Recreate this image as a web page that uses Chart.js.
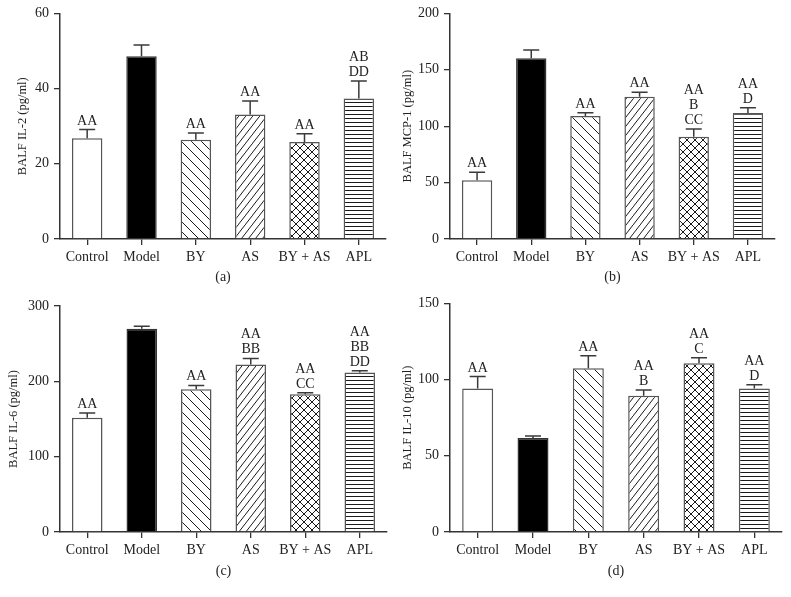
<!DOCTYPE html>
<html>
<head>
<meta charset="utf-8">
<script src="https://cdn.jsdelivr.net/npm/chart.js@4.4.0/dist/chart.umd.min.js"></script>
<style>
  body { margin: 0; background: #fff; }
  #wrap { position: relative; width: 791px; height: 597px; }
  .panel { position: absolute; }
</style>
</head>
<body>
<div id="wrap">
  <div class="panel" style="left:0;top:0;width:395px;height:290px"><canvas id="cA"></canvas></div>
  <div class="panel" style="left:395px;top:0;width:396px;height:290px"><canvas id="cB"></canvas></div>
  <div class="panel" style="left:0;top:290px;width:395px;height:307px"><canvas id="cC"></canvas></div>
  <div class="panel" style="left:395px;top:290px;width:396px;height:307px"><canvas id="cD"></canvas></div>
</div>
<script>
var categories = ['Control', 'Model', 'BY', 'AS', 'BY + AS', 'APL'];

var il2Mean = [26.8, 48.6, 26.4, 33.1, 25.8, 37.4];
var il2Sem = [2.3, 3.0, 1.8, 3.6, 2.2, 4.6];
var il2Marks = [['AA'], [], ['AA'], ['AA'], ['AA'], ['AB', 'DD']];

var mcp1Mean = [52.1, 160.3, 109.0, 126.0, 90.7, 111.6];
var mcp1Sem = [7.1, 7.3, 3.0, 4.0, 6.8, 4.7];
var mcp1Marks = [['AA'], [], ['AA'], ['AA'], ['AA', 'B', 'CC'], ['AA', 'D']];

var il6Mean = [151.5, 269.8, 189.6, 222.4, 183.0, 211.8];
var il6Sem = [6.5, 3.2, 4.9, 8.0, 2.0, 2.2];
var il6Marks = [['AA'], [], ['AA'], ['AA', 'BB'], ['AA', 'CC'], ['AA', 'BB', 'DD']];

var il10Mean = [94.1, 61.7, 107.5, 89.4, 110.7, 94.1];
var il10Sem = [7.9, 1.3, 8.2, 3.8, 3.7, 2.6];
var il10Marks = [['AA'], [], ['AA'], ['AA', 'B'], ['AA', 'C'], ['AA', 'D']];

var serif = "'Liberation Serif', 'DejaVu Serif', serif";
var ink = '#222';

// hatch fills
function makePattern(w, h, draw) {
  var c = document.createElement('canvas');
  c.width = w; c.height = h;
  var g = c.getContext('2d');
  g.fillStyle = '#fff';
  g.fillRect(0, 0, w, h);
  g.strokeStyle = '#1a1a1a';
  g.lineWidth = 1;
  draw(g, w, h);
  return g.createPattern(c, 'repeat');
}
var hatchBack = makePattern(10, 10, function (g, w, h) {
  g.beginPath();
  g.moveTo(-1, -1); g.lineTo(w + 1, h + 1);
  g.moveTo(-1, h - 1); g.lineTo(1, h + 1);
  g.moveTo(w - 1, -1); g.lineTo(w + 1, 1);
  g.stroke();
});
var hatchFwd = makePattern(7, 9, function (g, w, h) {
  g.beginPath();
  g.moveTo(0, h); g.lineTo(w, 0);
  g.moveTo(-w, h); g.lineTo(0, 0);
  g.moveTo(w, 2 * h); g.lineTo(2 * w, h);
  g.stroke();
});
var hatchCross = makePattern(8, 8, function (g, w, h) {
  g.beginPath();
  g.moveTo(0, 0); g.lineTo(w, h);
  g.moveTo(0, h); g.lineTo(w, 0);
  g.stroke();
});
var hatchHoriz = makePattern(4, 4, function (g, w, h) {
  g.beginPath();
  g.moveTo(0, 2.5); g.lineTo(w, 2.5);
  g.stroke();
});
var fills = ['#fff', '#000', hatchBack, hatchFwd, hatchCross, hatchHoriz];

// upper error whisker + significance letters
var errorMarks = {
  id: 'errorMarks',
  afterDatasetsDraw: function (chart, args, opts) {
    var ctx = chart.ctx;
    var y = chart.scales.y;
    var meta = chart.getDatasetMeta(0);
    var ds = chart.data.datasets[0];
    ctx.save();
    meta.data.forEach(function (bar, i) {
      var top = y.getPixelForValue(ds.data[i] + opts.sem[i]);
      ctx.strokeStyle = '#3a3a3a';
      ctx.lineWidth = 1.5;
      ctx.beginPath();
      ctx.moveTo(bar.x, bar.y);
      ctx.lineTo(bar.x, top);
      ctx.moveTo(bar.x - 8, top);
      ctx.lineTo(bar.x + 8, top);
      ctx.stroke();
      var lines = opts.marks[i];
      ctx.fillStyle = ink;
      ctx.font = '14px ' + serif;
      ctx.textAlign = 'center';
      ctx.textBaseline = 'alphabetic';
      for (var k = 0; k < lines.length; k++) {
        var base = top - 5 - (lines.length - 1 - k) * 15;
        ctx.fillText(lines[k], bar.x, base);
      }
    });
    ctx.restore();
  }
};

function makeChart(id, cfg) {
  return new Chart(document.getElementById(id), {
    type: 'bar',
    data: {
      labels: categories,
      datasets: [{
        data: cfg.mean,
        backgroundColor: fills,
        borderColor: ['#555', '#333', '#555', '#555', '#555', '#555'],
        borderWidth: 1.5,
        categoryPercentage: 1,
        barPercentage: 0.56
      }]
    },
    options: {
      responsive: true,
      maintainAspectRatio: false,
      animation: false,
      events: [],
      layout: { padding: { top: cfg.padTop, right: cfg.padRight, left: 0, bottom: 0 } },
      plugins: {
        legend: { display: false },
        tooltip: { enabled: false },
        errorMarks: { sem: cfg.sem, marks: cfg.marks }
      },
      scales: {
        x: {
          afterFit: function (s) { s.height = cfg.xHeight; },
          grid: { display: true, drawOnChartArea: false, offset: false, tickLength: 6, color: '#333', lineWidth: 1.3 },
          border: { display: true, color: '#333', width: 1.5 },
          ticks: { color: ink, font: { family: serif, size: 14 }, padding: 4, maxRotation: 0, autoSkip: false },
          title: { display: true, text: cfg.letter, color: ink, font: { family: serif, size: 14 }, padding: { top: 0, bottom: cfg.letterPad } }
        },
        y: {
          min: 0,
          max: cfg.max,
          afterFit: function (s) { s.width = cfg.yWidth; },
          grid: { display: true, drawOnChartArea: false, tickLength: 6, color: '#333', lineWidth: 1.3 },
          border: { display: true, color: '#333', width: 1.5 },
          ticks: { stepSize: cfg.step, color: ink, font: { family: serif, size: 14 }, padding: 5 },
          title: { display: true, text: cfg.yTitle, color: ink, font: { family: serif, size: 12.5 }, padding: { top: cfg.titlePad, bottom: 0 } }
        }
      }
    },
    plugins: [errorMarks]
  });
}

makeChart('cA', { mean: il2Mean, sem: il2Sem, marks: il2Marks, max: 60, step: 20, yTitle: 'BALF IL-2 (pg/ml)', letter: '(a)',
  padTop: 13, padRight: 9, yWidth: 60, xHeight: 51, letterPad: 4, titlePad: 15 });
makeChart('cB', { mean: mcp1Mean, sem: mcp1Sem, marks: mcp1Marks, max: 200, step: 50, yTitle: 'BALF MCP-1 (pg/ml)', letter: '(b)',
  padTop: 13, padRight: 16, yWidth: 55, xHeight: 51, letterPad: 4, titlePad: 5 });
makeChart('cC', { mean: il6Mean, sem: il6Sem, marks: il6Marks, max: 300, step: 100, yTitle: 'BALF IL-6 (pg/ml)', letter: '(c)',
  padTop: 16, padRight: 8, yWidth: 60, xHeight: 65, letterPad: 17, titlePad: 6 });
makeChart('cD', { mean: il10Mean, sem: il10Sem, marks: il10Marks, max: 150, step: 50, yTitle: 'BALF IL-10 (pg/ml)', letter: '(d)',
  padTop: 10, padRight: 9, yWidth: 55, xHeight: 65, letterPad: 17, titlePad: 5 });
</script>
</body>
</html>
